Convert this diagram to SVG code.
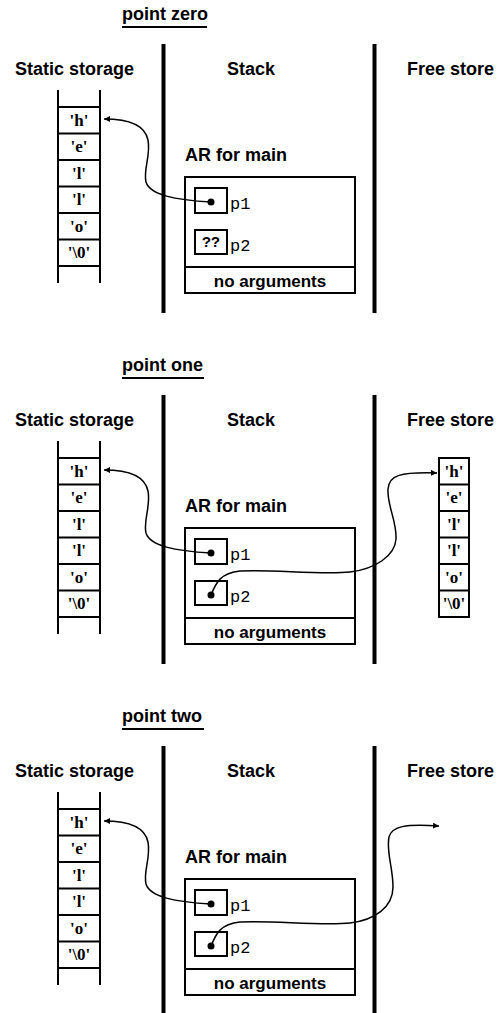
<svg xmlns="http://www.w3.org/2000/svg" width="498" height="1013" viewBox="0 0 498 1013">
<style>
.hd{font-family:"Liberation Sans",Arial,sans-serif;font-weight:bold;font-size:18px;fill:#000}
.ar{font-family:"Liberation Sans",Arial,sans-serif;font-weight:bold;font-size:17px;fill:#000}
.ch{font-family:"Liberation Serif","Times New Roman",serif;font-weight:bold;font-size:17px;fill:#000;text-anchor:middle}
.mono{font-family:"Liberation Mono","Courier New",monospace;font-size:17px;fill:#000}
.qq{font-family:"Liberation Mono","Courier New",monospace;font-weight:bold;font-size:15px;fill:#000;text-anchor:middle}
.ln{stroke:#000;stroke-width:2;fill:none}
.div{stroke:#000;stroke-width:4;fill:none}
.box{stroke:#000;stroke-width:2;fill:#fff}
.con{stroke:#000;stroke-width:1.5;fill:none;marker-end:url(#ah)}
.dot{fill:#000}
</style>
<defs>
<marker id="ah" markerUnits="userSpaceOnUse" markerWidth="8" markerHeight="8" refX="6" refY="3" orient="auto">
<path d="M0,0 L6,3 L0,6 z" fill="#000"/>
</marker>
<g id="static">
<line class="ln" x1="58" y1="90" x2="58" y2="283"/>
<line class="ln" x1="100" y1="90" x2="100" y2="283"/>
<line class="ln" x1="58" y1="107" x2="100" y2="107"/>
<line class="ln" x1="58" y1="133.5" x2="100" y2="133.5"/>
<line class="ln" x1="58" y1="160" x2="100" y2="160"/>
<line class="ln" x1="58" y1="186.5" x2="100" y2="186.5"/>
<line class="ln" x1="58" y1="213" x2="100" y2="213"/>
<line class="ln" x1="58" y1="239.5" x2="100" y2="239.5"/>
<line class="ln" x1="58" y1="266" x2="100" y2="266"/>
<text class="ch" x="79" y="126">'h'</text>
<text class="ch" x="79" y="152">'e'</text>
<text class="ch" x="79" y="179">'l'</text>
<text class="ch" x="79" y="205">'l'</text>
<text class="ch" x="79" y="232">'o'</text>
<text class="ch" x="79" y="258">'\0'</text>
</g>
<g id="frame">
<text class="hd" x="15" y="75">Static storage</text>
<text class="hd" x="227" y="75">Stack</text>
<text class="hd" x="407" y="75">Free store</text>
<line class="div" x1="163.5" y1="44" x2="163.5" y2="313"/>
<line class="div" x1="374.5" y1="44" x2="374.5" y2="313"/>
<text class="hd" x="185" y="161">AR for main</text>
<rect class="box" x="185" y="177" width="170" height="116"/>
<line class="ln" x1="185" y1="267" x2="355" y2="267"/>
<text class="ar" x="270" y="287" text-anchor="middle">no arguments</text>
<rect class="box" x="195" y="188" width="32" height="25"/>
<text class="mono" x="230" y="209">p1</text>
<rect class="box" x="195" y="230" width="32" height="24"/>
<text class="mono" x="230" y="251">p2</text>
</g>
</defs>

<g id="panel-zero">
<text class="hd" x="122" y="20">point zero</text>
<line x1="122" y1="27" x2="207" y2="27" stroke="#000" stroke-width="2"/>
<use href="#frame"/>
<g id="static-zero"><use href="#static"/></g>
<g id="ar-zero">
<text class="qq" x="211" y="247">??</text>
</g>
<g id="connectors-zero">
<circle class="dot" cx="211" cy="202" r="3.5"/>
<path class="con" d="M211,202 C175,200 150,195 146,182 C143,170 151,155 148,140 C145,125 130,119 104,119"/>
</g>
</g>

<g id="panel-one" transform="translate(0,351)">
<text class="hd" x="122" y="20">point one</text>
<line x1="122" y1="27" x2="204" y2="27" stroke="#000" stroke-width="2"/>
<use href="#frame"/>
<g id="static-one"><use href="#static"/></g>
<g id="freestore-one">
<rect class="box" x="439" y="107" width="30" height="159"/>
<line class="ln" x1="439" y1="133.5" x2="469" y2="133.5"/>
<line class="ln" x1="439" y1="160" x2="469" y2="160"/>
<line class="ln" x1="439" y1="186.5" x2="469" y2="186.5"/>
<line class="ln" x1="439" y1="213" x2="469" y2="213"/>
<line class="ln" x1="439" y1="239.5" x2="469" y2="239.5"/>
<text class="ch" x="454" y="126">'h'</text>
<text class="ch" x="454" y="152">'e'</text>
<text class="ch" x="454" y="179">'l'</text>
<text class="ch" x="454" y="205">'l'</text>
<text class="ch" x="454" y="232">'o'</text>
<text class="ch" x="454" y="258">'\0'</text>
</g>
<g id="connectors-one">
<circle class="dot" cx="211" cy="202" r="3.5"/>
<path class="con" d="M211,202 C175,200 150,195 146,182 C143,170 151,155 148,140 C145,125 130,119 104,119"/>
<circle class="dot" cx="211" cy="244" r="3.5"/>
<path class="con" d="M211,244 C216,232 220,222 240,220 C270,218 320,224 350,221 C375,218 395,205 396,188 C397,170 387,155 388,138 C389,124 400,121 437,122"/>
</g>
</g>

<g id="panel-two" transform="translate(0,702)">
<text class="hd" x="122" y="20">point two</text>
<line x1="122" y1="27" x2="204" y2="27" stroke="#000" stroke-width="2"/>
<use href="#frame"/>
<g id="static-two"><use href="#static"/></g>
<g id="connectors-two">
<circle class="dot" cx="211" cy="202" r="3.5"/>
<path class="con" d="M211,202 C175,200 150,195 146,182 C143,170 151,155 148,140 C145,125 130,119 104,119"/>
<circle class="dot" cx="211" cy="244" r="3.5"/>
<path class="con" d="M211,244 C216,232 220,222 240,220 C270,218 320,224 350,221 C375,218 393,205 393,185 C393,165 386,150 389,135 C392,124 405,122 439,124"/>
</g>
</g>
</svg>
